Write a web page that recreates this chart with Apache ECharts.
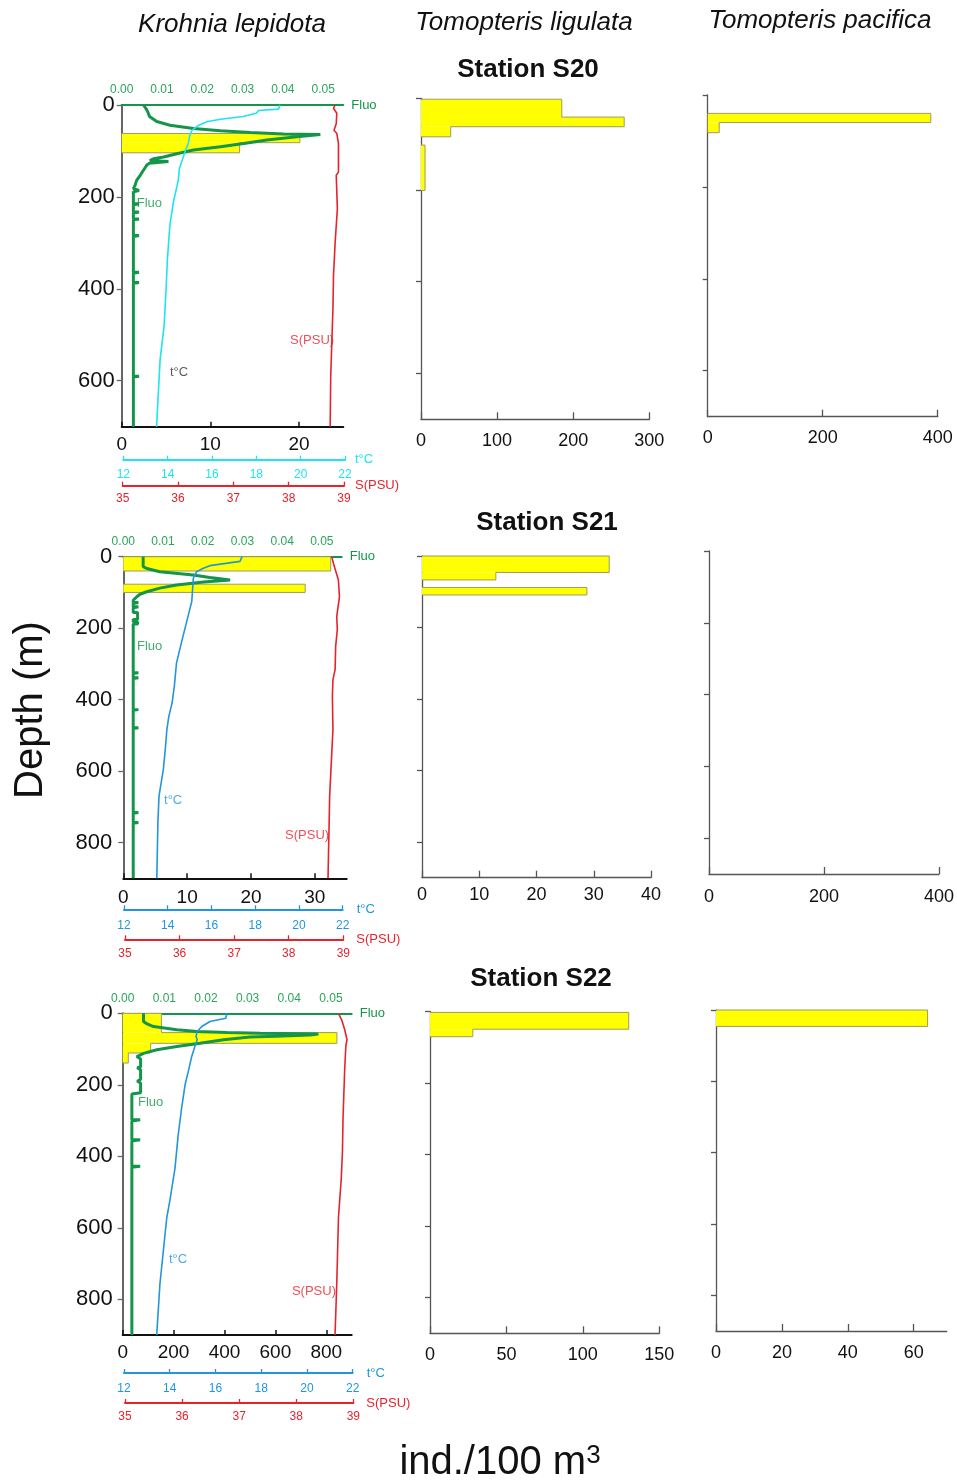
<!DOCTYPE html>
<html><head><meta charset="utf-8">
<script src="https://cdn.jsdelivr.net/npm/echarts@6/dist/echarts.min.js"></script>
<style>html,body{margin:0;padding:0;background:#fff}#c{width:957px;height:1483px}</style>
</head><body><div id="c"></div>
<script>
// ================= DATA =================
const stationNames = ['Station S20', 'Station S21', 'Station S22'];
const speciesNames = ['Krohnia lepidota', 'Tomopteris ligulata', 'Tomopteris pacifica'];

// abundance layers: [top depth (m), bottom depth (m), ind./100 m3]
const s20Krohnia  = [[62, 82, 20.1], [82, 104, 13.3]];
const s20Ligulata = [[2, 41, 185], [41, 62, 267], [62, 84, 39], [102, 201, 5.3]];
const s20Pacifica = [[40, 60, 388], [60, 82, 20]];
const s21Krohnia  = [[0, 40, 32.5], [77, 100, 28.5]];
const s21Ligulata = [[0, 46, 32.7], [46, 67, 12.9], [88, 109, 28.8]];
const s21Pacifica = [];
const s22Krohnia  = [[0, 54, 152], [54, 84, 842], [84, 111, 110], [111, 139, 22]];
const s22Ligulata = [[2, 49, 130], [49, 70, 28]];
const s22Pacifica = [[0, 46, 64.2]];

// profiles: [value, depth]
const s20Fluo = [[0.0054,0],[0.0054,4],[0.0062,10],[0.0066,18],[0.0069,25],[0.0087,36],[0.012,44],[0.0178,51],[0.0245,56],[0.0319,60],[0.0402,63],[0.0493,64],[0.0435,69],[0.036,76],[0.0303,84],[0.0245,91],[0.0178,98],[0.0137,106],[0.0104,113],[0.0079,117],[0.007,121],[0.0116,123],[0.0116,126],[0.0068,127],[0.0062,131],[0.0054,142],[0.0046,153],[0.0037,164],[0.0033,175],[0.0029,182],
  [0.0029,186],[0.0043,186],[0.0043,189],[0.0029,189],[0.0029,215],[0.0043,215],[0.0043,217],[0.0029,217],[0.0029,233],[0.0043,233],[0.0043,235],[0.0029,235],[0.0029,248],[0.0043,248],[0.0043,250],[0.0029,250],[0.0029,284],[0.0043,284],[0.0043,286],[0.0029,286],[0.0029,364],[0.0043,364],[0.0043,366],[0.0029,366],[0.0029,386],[0.0043,386],[0.0043,388],[0.0029,388],[0.0029,590],[0.0043,590],[0.0043,592],[0.0029,592],[0.0029,700]];
const s20Temp = [[19.07,0],[19.07,4],[19.0,9],[18.1,12],[18.0,18],[17.4,25],[16.4,31],[15.8,36],[15.4,44],[15.1,55],[15.0,66],[14.93,84],[14.78,102],[14.63,124],[14.53,138],[14.48,164],[14.26,211],[14.1,262],[13.99,335],[13.93,401],[13.84,481],[13.66,554],[13.58,627],[13.5,700]];
const s20Sal = [[38.84,0],[38.81,7],[38.87,18],[38.86,40],[38.82,55],[38.87,62],[38.9,84],[38.9,146],[38.86,153],[38.88,226],[38.84,299],[38.81,372],[38.8,444],[38.78,517],[38.76,590],[38.75,700]];

const s21Fluo = [[0.005,0],[0.005,28],[0.0059,33],[0.0092,42],[0.0176,51],[0.0218,58],[0.0269,65],[0.0202,71],[0.0134,79],[0.0092,88],[0.0059,98],[0.0042,105],[0.0034,112],[0.0025,122],
  [0.0025,128],[0.0038,128],[0.0038,131],[0.0025,131],[0.0025,140],[0.0038,140],[0.0038,143],[0.0025,143],[0.0025,156],[0.0036,156],[0.0036,176],[0.0025,176],[0.0025,182],[0.0036,182],[0.0036,188],[0.0025,188],[0.0025,325],[0.0038,325],[0.0038,327],[0.0025,327],[0.0025,339],[0.0038,339],[0.0038,341],[0.0025,341],[0.0025,428],[0.0038,428],[0.0038,430],[0.0025,430],[0.0025,479],[0.0038,479],[0.0038,481],[0.0025,481],[0.0025,716],[0.0038,716],[0.0038,718],[0.0025,718],[0.0025,744],[0.0038,744],[0.0038,746],[0.0025,746],[0.0025,900]];
const s21Temp = [[17.4,0],[17.38,5],[17.3,13],[15.93,25],[15.6,33],[15.32,42],[15.17,60],[15.14,88],[15.1,125],[14.87,181],[14.64,237],[14.4,298],[14.3,363],[14.2,409],[14.05,447],[13.96,484],[13.9,530],[13.8,595],[13.6,670],[13.55,744],[13.5,900]];
const s21Sal = [[38.79,0],[38.79,5],[38.82,19],[38.91,65],[38.93,112],[38.88,167],[38.89,205],[38.86,251],[38.85,316],[38.81,344],[38.8,391],[38.81,484],[38.78,577],[38.75,670],[38.72,900]];

const s22Fluo = [[0.005,0],[0.005,23],[0.0056,28],[0.0074,37],[0.013,46],[0.0178,51],[0.025,54],[0.033,56],[0.047,58],[0.045,61],[0.037,64],[0.0306,66],[0.0242,74],[0.0186,84],[0.013,93],[0.0082,102],[0.005,112],[0.0034,121],[0.0043,128],[0.0043,150],[0.0035,152],[0.0043,158],[0.0043,185],[0.0035,190],[0.0043,195],[0.0043,222],[0.0022,226],
  [0.0022,298],[0.0042,298],[0.0042,301],[0.0022,301],[0.0022,354],[0.0042,354],[0.0042,357],[0.0022,357],[0.0022,428],[0.0042,428],[0.0042,431],[0.0022,431],[0.0022,900]];
const s22Temp = [[16.5,0],[16.45,14],[15.76,23],[15.4,37],[15.2,51],[15.15,65],[15.2,74],[15.1,93],[14.96,121],[14.81,163],[14.67,200],[14.52,265],[14.37,340],[14.23,433],[14.0,526],[13.87,572],[13.72,665],[13.57,758],[13.43,900]];
const s22Sal = [[38.74,0],[38.8,20],[38.85,46],[38.89,74],[38.87,90],[38.85,153],[38.82,293],[38.81,386],[38.79,460],[38.74,572],[38.71,758],[38.68,900]];

// tick labels
const depthTicks700 = [0, 200, 400, 600];
const depthTicks900 = [0, 200, 400, 600, 800];
const fluoTicks = [0, 0.01, 0.02, 0.03, 0.04, 0.05];
const tempTicks = [12, 14, 16, 18, 20, 22];
const salTicks = [35, 36, 37, 38, 39];
const s20KrohniaTicks = [0, 10, 20];
const s21KrohniaTicks = [0, 10, 20, 30];
const s22KrohniaTicks = [0, 200, 400, 600, 800];
const s20LigTicks = [0, 100, 200, 300];
const s21LigTicks = [0, 10, 20, 30, 40];
const s22LigTicks = [0, 50, 100, 150];
const s20PacTicks = [0, 200, 400];
const s21PacTicks = [0, 200, 400];
const s22PacTicks = [0, 20, 40, 60];

// ================= LAYOUT / STYLE =================
const FONT = 'Liberation Sans';
const GREEN = '#14964a', GREEN_LBL = '#2aa55a', RED = '#e6232d', CYAN = '#1ee3f0', BLUE = '#2196dc';
const rows = [
  { depthMax: 700, depthTicks: depthTicks700, krohnia: s20Krohnia, lig: s20Ligulata, pac: s20Pacifica,
    fluo: s20Fluo, temp: s20Temp, sal: s20Sal, kTicks: s20KrohniaTicks, ligTicks: s20LigTicks, pacTicks: s20PacTicks,
    k: {left: 121.7, top: 105, width: 221.6, height: 321.7, max: 25, dMargin: 7, xMargin: 9},
    fl: {left: 121.7, width: 221.6}, tp: {left: 123.3, width: 221.7, offset: 33, margin: 9, gap: 10},
    sl: {left: 122.7, width: 221.3, offset: 59, margin: 7, gap: 11},
    tempColor: CYAN, tempLblColor: '#333',
    lg: {left: 421, top: 98.3, width: 228.3, height: 321, max: 300, margin: 13},
    pc: {left: 707.7, top: 95, width: 230, height: 321.7, max: 400, margin: 12},
    lbl: {fluo: [1.7, 215], temp: [5.45, 581], sal: [19.0, 513]} },
  { depthMax: 900, depthTicks: depthTicks900, krohnia: s21Krohnia, lig: s21Ligulata, pac: s21Pacifica,
    fluo: s21Fluo, temp: s21Temp, sal: s21Sal, kTicks: s21KrohniaTicks, ligTicks: s21LigTicks, pacTicks: s21PacTicks,
    k: {left: 123.3, top: 556.7, width: 223.4, height: 321.6, max: 35, dMargin: 11, xMargin: 10},
    fl: {left: 123.3, width: 218.4}, tp: {left: 124, width: 218.7, offset: 31, margin: 10, gap: 14},
    sl: {left: 125, width: 218.3, offset: 61, margin: 8, gap: 13},
    tempColor: BLUE, tempLblColor: BLUE,
    lg: {left: 422, top: 556, width: 229, height: 321.7, max: 40, margin: 8},
    pc: {left: 709, top: 551, width: 230.3, height: 323, max: 400, margin: 14},
    lbl: {fluo: [2.15, 250], temp: [6.38, 681], sal: [25.35, 779]} },
  { depthMax: 900, depthTicks: depthTicks900, krohnia: s22Krohnia, lig: s22Ligulata, pac: s22Pacifica,
    fluo: s22Fluo, temp: s22Temp, sal: s22Sal, kTicks: s22KrohniaTicks, ligTicks: s22LigTicks, pacTicks: s22PacTicks,
    k: {left: 122.7, top: 1013.3, width: 229, height: 321.7, max: 900, dMargin: 10, xMargin: 8},
    fl: {left: 122.7, width: 229}, tp: {left: 124, width: 228.7, offset: 38, margin: 10, gap: 14},
    sl: {left: 125, width: 228.3, offset: 68, margin: 8, gap: 13},
    tempColor: BLUE, tempLblColor: BLUE,
    lg: {left: 430, top: 1011.7, width: 229.3, height: 321.6, max: 150, margin: 13},
    pc: {left: 716, top: 1010, width: 230.7, height: 321, max: 70, margin: 13},
    lbl: {fluo: [60, 248], temp: [182, 688], sal: [665, 777]} }
];

// ================= BUILD =================
const option = { animation: false, textStyle: {fontFamily: FONT}, grid: [], xAxis: [], yAxis: [], series: [], graphic: [] };

function addGrid(g, top, height, xCfg, yCfg) {
  option.grid.push({left: g.left, top: top, width: g.width, height: height});
  const idx = option.grid.length - 1;
  option.xAxis.push(Object.assign({gridIndex: idx, type: 'value', splitLine: {show: false}}, xCfg));
  option.yAxis.push(Object.assign({gridIndex: idx, type: 'value', splitLine: {show: false}}, yCfg));
  return idx;
}
function hiddenY(max) { return {show: false, inverse: true, min: 0, max: max}; }
function depthY(row, withLabels, margin, color, width) {
  return {inverse: true, min: 0, max: row.depthMax,
    axisLine: {show: true, onZero: false, lineStyle: {color: color, width: width}},
    axisTick: {show: true, inside: false, length: 5, customValues: row.depthTicks, lineStyle: {color: color, width: 1.3}},
    axisLabel: {show: withLabels, customValues: row.depthTicks, fontSize: 22, color: '#111', margin: margin}};
}
function layerSeries(layers, idx) {
  return {type: 'custom', xAxisIndex: idx, yAxisIndex: idx, z: 2, silent: true,
    data: layers.map(l => [l[2], l[0], l[1]]), encode: {x: 0, y: [1, 2]},
    renderItem: function (params, api) {
      const i = params.dataIndex, L = layers[i], prev = layers[i - 1], next = layers[i + 1];
      const top = L[0], bot = L[1], v = L[2];
      const pv = (prev && prev[1] === top) ? prev[2] : 0;
      const nextContig = !!(next && next[0] === bot);
      const a = api.coord([0, top]), b = api.coord([v, bot]);
      const pts = [api.coord([pv, top]), api.coord([v, top]), api.coord([v, bot])];
      if (!nextContig) pts.push(api.coord([0, bot]));
      return {type: 'group', children: [
        {type: 'rect', shape: {x: a[0], y: a[1], width: b[0] - a[0], height: b[1] - a[1]}, style: {fill: '#ffff00'}},
        {type: 'polyline', shape: {points: pts}, style: {stroke: '#9c9c5e', lineWidth: 1, fill: null}}
      ]};
    }};
}
function lineSeries(data, idx, color, width, z) {
  return {type: 'line', xAxisIndex: idx, yAxisIndex: idx, data: data, showSymbol: false, symbol: 'none',
    lineStyle: {color: color, width: width}, z: z, silent: true, clip: true};
}
function textSeries(idx, pos, text, color) {
  return {type: 'scatter', xAxisIndex: idx, yAxisIndex: idx, data: [pos], symbolSize: 0, z: 10, silent: true,
    label: {show: true, formatter: text, position: 'right', distance: 0, color: color, fontSize: 13, fontFamily: FONT}};
}

rows.forEach(function (row) {
  const kTop = row.k.top, kH = row.k.height;
  const kIdx = addGrid(row.k, kTop, kH,
    {min: 0, max: row.k.max, position: 'bottom',
     axisLine: {onZero: false, lineStyle: {color: '#111', width: 2}},
     axisTick: {inside: true, length: 5, customValues: row.kTicks, lineStyle: {color: '#111', width: 1.5}},
     axisLabel: {customValues: row.kTicks, fontSize: 19, color: '#111', margin: row.k.xMargin}},
    depthY(row, true, row.k.dMargin, '#666', 2));
  const fIdx = addGrid(row.fl, kTop, kH,
    {min: 0, max: 0.055, position: 'top',
     axisLine: {onZero: false, lineStyle: {color: GREEN, width: 2}},
     axisTick: {show: false},
     axisLabel: {customValues: fluoTicks, formatter: v => v.toFixed(2), fontSize: 12, color: GREEN_LBL, margin: 9},
     name: 'Fluo', nameLocation: 'end', nameGap: 8,
     nameTextStyle: {color: GREEN, fontSize: 13, align: 'left', verticalAlign: 'middle'}},
    hiddenY(row.depthMax));
  const tIdx = addGrid(row.tp, kTop, kH,
    {min: 12, max: 22, position: 'bottom', offset: row.tp.offset,
     axisLine: {onZero: false, lineStyle: {color: row.tempColor, width: 2}},
     axisTick: {inside: true, length: 4, customValues: tempTicks, lineStyle: {color: row.tempColor, width: 1.3}},
     axisLabel: {customValues: tempTicks, fontSize: 12, color: row.tempColor, margin: row.tp.margin},
     name: 't°C', nameLocation: 'end', nameGap: row.tp.gap,
     nameTextStyle: {color: row.tempColor, fontSize: 13, align: 'left', verticalAlign: 'middle', padding: [6, 0, 0, 0]}},
    hiddenY(row.depthMax));
  const sIdx = addGrid(row.sl, kTop, kH,
    {min: 35, max: 39, position: 'bottom', offset: row.sl.offset,
     axisLine: {onZero: false, lineStyle: {color: RED, width: 2}},
     axisTick: {inside: true, length: 4, customValues: salTicks, lineStyle: {color: RED, width: 1.3}},
     axisLabel: {customValues: salTicks, fontSize: 12, color: RED, margin: row.sl.margin},
     name: 'S(PSU)', nameLocation: 'end', nameGap: row.sl.gap,
     nameTextStyle: {color: RED, fontSize: 13, align: 'left', verticalAlign: 'middle', padding: [6, 0, 0, 0]}},
    hiddenY(row.depthMax));

  option.series.push(layerSeries(row.krohnia, kIdx));
  option.series.push(lineSeries(row.fluo, fIdx, GREEN, 3, 4));
  option.series.push(lineSeries(row.temp, tIdx, row.tempColor, 1.6, 5));
  option.series.push(lineSeries(row.sal, sIdx, RED, 1.6, 5));
  option.series.push(textSeries(kIdx, row.lbl.fluo, 'Fluo', GREEN));
  option.series.push(textSeries(kIdx, row.lbl.temp, 't°C', row.tempLblColor));
  option.series.push(textSeries(kIdx, row.lbl.sal, 'S(PSU)', RED));

  [[row.lg, row.lig, row.ligTicks], [row.pc, row.pac, row.pacTicks]].forEach(function (p) {
    const g = p[0];
    const idx = addGrid(g, g.top, g.height,
      {min: 0, max: g.max, position: 'bottom',
       axisLine: {onZero: false, lineStyle: {color: '#555', width: 1.3}},
       axisTick: {inside: true, length: 7, customValues: p[2], lineStyle: {color: '#555', width: 1.3}},
       axisLabel: {customValues: p[2], fontSize: 18, color: '#111', margin: g.margin}},
      depthY(row, false, 0, '#555', 1.3));
    if (p[1].length) option.series.push(layerSeries(p[1], idx));
  });
});

function txt(x, y, text, size, extra) {
  return Object.assign({type: 'text', x: x, y: y, silent: true,
    style: Object.assign({text: text, fontSize: size, fontFamily: FONT, fill: '#111',
      align: 'center', verticalAlign: 'middle', textAlign: 'center', textVerticalAlign: 'middle'}, (extra && extra.style) || {})},
    (extra && extra.el) || {});
}
option.graphic.push(txt(232, 25, speciesNames[0], 26, {style: {fontStyle: 'italic'}}));
option.graphic.push(txt(524, 23, speciesNames[1], 26, {style: {fontStyle: 'italic'}}));
option.graphic.push(txt(820, 21, speciesNames[2], 26, {style: {fontStyle: 'italic'}}));
option.graphic.push(txt(528, 70, stationNames[0], 26, {style: {fontWeight: 'bold'}}));
option.graphic.push(txt(547, 523, stationNames[1], 26, {style: {fontWeight: 'bold'}}));
option.graphic.push(txt(541, 979, stationNames[2], 26, {style: {fontWeight: 'bold'}}));
option.graphic.push(txt(31, 710, 'Depth (m)', 40, {el: {rotation: Math.PI / 2}}));
option.graphic.push({type: 'text', x: 500, y: 1463, silent: true,
  style: {text: '{a|ind./100 m}{s|3}', align: 'center', verticalAlign: 'middle', textAlign: 'center', textVerticalAlign: 'middle',
    rich: {a: {fontSize: 40, fontFamily: FONT, fill: '#111', color: '#111'},
           s: {fontSize: 26, fontFamily: FONT, fill: '#111', color: '#111', verticalAlign: 'top'}}}});

const chart = echarts.init(document.getElementById('c'), null, {renderer: 'canvas'});
chart.setOption(option);
</script></body></html>
